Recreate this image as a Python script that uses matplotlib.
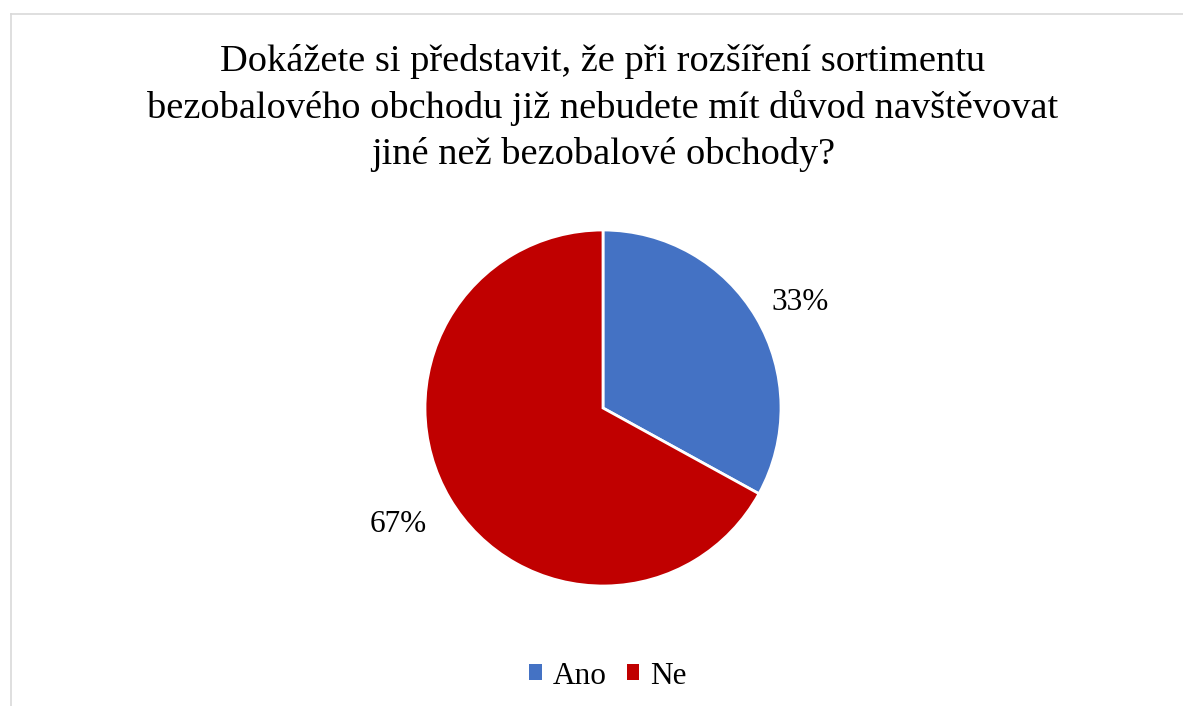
import matplotlib.pyplot as plt
from matplotlib.lines import Line2D
from matplotlib.patches import Patch

labels = ["Ano", "Ne"]
shares = [33, 67]
colors = ["#4472C4", "#C00000"]
title = ("Dokážete si představit, že při rozšíření sortimentu\n"
         "bezobalového obchodu již nebudete mít důvod navštěvovat\n"
         "jiné než bezobalové obchody?")

plt.rcParams["font.family"] = ["Liberation Serif", "DejaVu Serif"]

W, H = 1183, 706
fig = plt.figure(figsize=(W / 100, H / 100), dpi=100)

# light frame, only top and left are visible in the reference
fig.add_artist(Line2D([10.5 / W, 10.5 / W], [0, 1 - 13.5 / H], color="#d9d9d9", lw=1.2))
fig.add_artist(Line2D([10.5 / W, 1], [1 - 13.5 / H, 1 - 13.5 / H], color="#d9d9d9", lw=1.2))

fig.text(603 / W, 1 - 108 / H, title, ha="center", va="center",
         fontsize=27.6, linespacing=1.39)

# pie centre (603, 408), radius ~178 px
r = 178
ax = fig.add_axes([(603 - r) / W, 1 - (408 + r) / H, 2 * r / W, 2 * r / H])
wedges, _ = ax.pie(shares, colors=colors, startangle=90, counterclock=False,
                   wedgeprops=dict(edgecolor="white", linewidth=2))
ax.set_xlim(-1, 1)
ax.set_ylim(-1, 1)
ax.set_aspect("equal")

fig.text(800 / W, 1 - 302 / H, f"{shares[0]}%", ha="center", va="center", fontsize=22.5)
fig.text(398 / W, 1 - 524 / H, f"{shares[1]}%", ha="center", va="center", fontsize=22.5)

handles = [Patch(facecolor=c, edgecolor="none") for c in colors]
fig.legend(handles, labels, loc="center", bbox_to_anchor=(608 / W, 1 - 676 / H),
           ncol=2, frameon=False, fontsize=22.5, handlelength=0.4, handleheight=0.4,
           handletextpad=0.35, columnspacing=0.65)

fig.savefig("out.png", dpi=100)
